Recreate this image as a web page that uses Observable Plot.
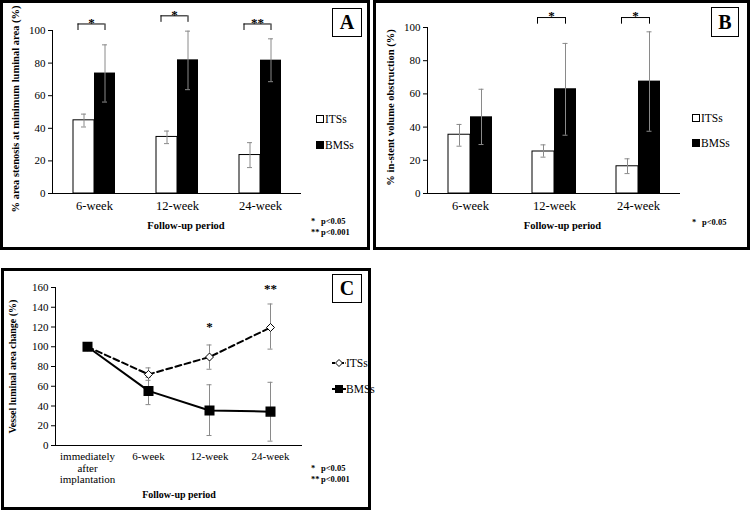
<!DOCTYPE html>
<html>
<head>
<meta charset="utf-8">
<script src="https://cdn.jsdelivr.net/npm/d3@7"></script>
<script src="https://cdn.jsdelivr.net/npm/@observablehq/plot@0.6"></script>
<style>
html,body{margin:0;padding:0;background:#fff;}
#root{position:relative;width:750px;height:511px;overflow:hidden;font-family:"Liberation Serif","Times New Roman",serif;color:#000;}
.frame{position:absolute;box-sizing:border-box;border:3px solid #000;pointer-events:none;}
.plot{position:absolute;}
.plot svg{display:block;overflow:visible;}
.tag{position:absolute;box-sizing:border-box;border:1.5px solid #000;font-weight:bold;font-size:20px;display:flex;align-items:center;justify-content:center;background:#fff;color:#000;}
.leg{position:absolute;font-size:11.5px;line-height:14px;height:14px;display:flex;align-items:center;white-space:nowrap;color:#000;}
.sw{display:inline-block;width:8px;height:8px;box-sizing:border-box;border:1px solid #000;margin-right:1px;}
.note{position:absolute;font-size:8.5px;font-weight:bold;line-height:10px;white-space:nowrap;color:#000;}
.note span{display:inline-block;width:10px;}
</style>
</head>
<body>
<div id="root"></div>
<script>
// ---------- data ----------
const weeks = ["6-week", "12-week", "24-week"];
const groups = ["ITSs", "BMSs"];

// Panel A: % area stenosis at minimum luminal area
const aITS = [44.9, 34.7, 23.6];
const aITSLo = [40.8, 30.6, 15.9];
const aITSHi = [48.7, 38.3, 31.2];
const aBMS = [73.9, 82.0, 81.8];
const aBMSLo = [56.1, 63.7, 68.6];
const aBMSHi = [91.2, 99.6, 94.9];
const aSig = ["*", "*", "**"];
const aSigLevel = [100, 105, 100];

// Panel B: % in-stent volume obstruction
const bITS = [35.4, 25.3, 16.4];
const bITSLo = [28.5, 21.9, 12.0];
const bITSHi = [41.6, 29.3, 20.9];
const bBMS = [46.2, 63.1, 67.7];
const bBMSLo = [29.5, 35.1, 37.5];
const bBMSHi = [62.8, 90.4, 97.4];
const bSig = ["", "*", "*"];
const bSigLevel = [null, 102, 102];

// Panel C: vessel luminal area change
const stages = ["immediately after implantation", "6-week", "12-week", "24-week"];
const cITS = [100, 72, 89.6, 119.5];
const cITSLo = [null, 66, 77.2, 97.6];
const cITSHi = [null, 78.6, 101.8, 143.3];
const cBMS = [100, 55.3, 35.4, 34.3];
const cBMSLo = [null, 41.4, 10.1, 4.4];
const cBMSHi = [null, 69, 61.5, 64];
const cSig = ["", "", "*", "**"];
const cSigLevel = [null, null, 120, 159];

const yTicksAB = [0, 20, 40, 60, 80, 100];
const yTicksC = [0, 20, 40, 60, 80, 100, 120, 140, 160];

const yTitleA = "% area stenosis at minimum luminal area (%)";
const yTitleB = "% in-stent volume obstruction (%)";
const yTitleC = "Vessel luminal area change (%)";
const xTitle = "Follow-up period";

// ---------- helpers ----------
const FONT = "'Liberation Serif', 'Times New Roman', serif";
const ERR = "#8a8a8a";
const root = document.getElementById("root");

function place(node, left, top) {
  const d = document.createElement("div");
  d.className = "plot";
  d.style.left = left + "px";
  d.style.top = top + "px";
  d.appendChild(node);
  root.appendChild(d);
}
function html(s) { root.insertAdjacentHTML("beforeend", s); }

function barPanel(o) {
  const bw = o.bw, q = bw / 4, capIn = (bw - 5) / 2;
  const its = weeks.map((w, i) => ({week: w, v: o.its[i], lo: o.itsLo[i], hi: o.itsHi[i]}));
  const bms = weeks.map((w, i) => ({week: w, v: o.bms[i], lo: o.bmsLo[i], hi: o.bmsHi[i]}));
  const sig = weeks.map((w, i) => ({week: w, s: o.sig[i], lv: o.sigLevel[i]})).filter(d => d.s);
  return Plot.plot({
    width: o.width, height: o.height,
    marginLeft: o.ml, marginRight: o.mr, marginTop: o.mt, marginBottom: o.mb,
    style: {fontFamily: FONT, fontSize: "12px", color: "#000", background: "transparent", overflow: "visible"},
    x: {domain: weeks, paddingInner: o.pi, paddingOuter: o.pi / 2, align: 0.5, axis: null},
    y: {domain: [0, 100], axis: null},
    marks: [
      Plot.barY(its, {x: "week", y: "v", fill: "#fff", stroke: "#000", strokeWidth: 1, insetRight: bw / 2}),
      Plot.barY(bms, {x: "week", y: "v", fill: "#000", insetLeft: bw / 2}),
      Plot.ruleX(its, {x: "week", y1: "lo", y2: "hi", dx: -q, stroke: ERR}),
      Plot.tickY(its, {x: "week", y: "lo", dx: -q, insetLeft: capIn, insetRight: capIn, stroke: ERR}),
      Plot.tickY(its, {x: "week", y: "hi", dx: -q, insetLeft: capIn, insetRight: capIn, stroke: ERR}),
      Plot.ruleX(bms, {x: "week", y1: "lo", y2: "hi", dx: q, stroke: ERR}),
      Plot.tickY(bms, {x: "week", y: "lo", dx: q, insetLeft: capIn, insetRight: capIn, stroke: ERR}),
      Plot.tickY(bms, {x: "week", y: "hi", dx: q, insetLeft: capIn, insetRight: capIn, stroke: ERR}),
      Plot.ruleY([0], {stroke: "#000"}),
      Plot.frame({anchor: "left", stroke: "#000"}),
      Plot.axisY({ticks: yTicksAB, tickSize: 4, tickPadding: 3, fontSize: 11, label: null}),
      Plot.axisX({tickSize: 0, tickPadding: 8, fontSize: 12.5, label: null}),
      Plot.ruleY(sig, {x1: "week", x2: "week", y: d => d.lv + 4, insetLeft: q - 6, insetRight: q, stroke: "#000"}),
      Plot.ruleX(sig, {x: "week", y1: "lv", y2: d => d.lv + 4, dx: -(q + 6), stroke: "#000"}),
      Plot.ruleX(sig, {x: "week", y1: "lv", y2: d => d.lv + 4, dx: q, stroke: "#000"}),
      Plot.text(sig, {x: "week", y: d => d.lv + 4, text: "s", dx: -3, dy: -1.5, lineAnchor: "middle", fontSize: 13, fontWeight: "bold"}),
      Plot.text([o.yTitle], {text: d => d, frameAnchor: "left", textAnchor: "middle", rotate: -90, dx: o.ytdx, dy: o.ytdy, fontWeight: "bold", fontSize: 10.5}),
      Plot.text([xTitle], {text: d => d, frameAnchor: "bottom", dx: o.xtdx, dy: 35, fontWeight: "bold", fontSize: 10.5})
    ]
  });
}

// ---------- Panel A ----------
place(barPanel({
  width: 370, height: 250, ml: 52, mr: 69, mt: 30, mb: 57, bw: 42, pi: 1 - 42 / 83,
  its: aITS, itsLo: aITSLo, itsHi: aITSHi, bms: aBMS, bmsLo: aBMSLo, bmsHi: aBMSHi,
  sig: aSig, sigLevel: aSigLevel, yTitle: yTitleA, ytdx: -37, ytdy: -3, xtdx: 9
}), 0, 0);

// ---------- Panel B ----------
place(barPanel({
  width: 377, height: 250, ml: 54, mr: 70, mt: 27, mb: 57, bw: 44, pi: 1 - 44 / 84.33,
  its: bITS, itsLo: bITSLo, itsHi: bITSHi, bms: bBMS, bmsLo: bBMSLo, bmsHi: bBMSHi,
  sig: bSig, sigLevel: bSigLevel, yTitle: yTitleB, ytdx: -37, ytdy: -3, xtdx: 8.5
}), 373, 0);

// ---------- Panel C ----------
{
  const its = stages.map((s, i) => ({stage: s, v: cITS[i], lo: cITSLo[i], hi: cITSHi[i]}));
  const bms = stages.map((s, i) => ({stage: s, v: cBMS[i], lo: cBMSLo[i], hi: cBMSHi[i]}));
  const itsE = its.filter(d => d.lo != null), bmsE = bms.filter(d => d.lo != null);
  const sig = stages.map((s, i) => ({stage: s, s: cSig[i], lv: cSigLevel[i]})).filter(d => d.s);
  const cap = {insetLeft: -2.5, insetRight: -2.5, stroke: ERR};
  place(Plot.plot({
    width: 370, height: 242, marginLeft: 54, marginRight: 69, marginTop: 19, marginBottom: 65,
    style: {fontFamily: FONT, fontSize: "11px", color: "#000", background: "transparent", overflow: "visible"},
    x: {type: "point", domain: stages, padding: 0.5, axis: null},
    y: {domain: [0, 160], axis: null},
    marks: [
      Plot.ruleY([0], {stroke: "#000"}),
      Plot.frame({anchor: "left", stroke: "#000"}),
      Plot.axisY({ticks: yTicksC, tickSize: 4, tickPadding: 3, fontSize: 11, label: null}),
      Plot.axisX({tickSize: 0, tickPadding: 7, fontSize: 11, lineHeight: 1.02, label: null, tickFormat: d => d.replace(/ /g, "\n")}),
      Plot.ruleX(itsE, {x: "stage", y1: "lo", y2: "hi", stroke: ERR}),
      Plot.ruleY(itsE, {x1: "stage", x2: "stage", y: "lo", ...cap}),
      Plot.ruleY(itsE, {x1: "stage", x2: "stage", y: "hi", ...cap}),
      Plot.ruleX(bmsE, {x: "stage", y1: "lo", y2: "hi", stroke: ERR}),
      Plot.ruleY(bmsE, {x1: "stage", x2: "stage", y: "lo", ...cap}),
      Plot.ruleY(bmsE, {x1: "stage", x2: "stage", y: "hi", ...cap}),
      Plot.line(its, {x: "stage", y: "v", stroke: "#000", strokeWidth: 2, strokeDasharray: "6,3.5"}),
      Plot.line(bms, {x: "stage", y: "v", stroke: "#000", strokeWidth: 2}),
      Plot.dot(its, {x: "stage", y: "v", symbol: "diamond2", r: 3.6, fill: "#fff", stroke: "#000", strokeWidth: 1}),
      Plot.dot(bms, {x: "stage", y: "v", symbol: "square", r: 4.8, fill: "#000", stroke: "#000"}),
      Plot.text(sig, {x: "stage", y: "lv", text: "s", lineAnchor: "middle", fontSize: 13, fontWeight: "bold"}),
      Plot.text([yTitleC], {text: d => d, frameAnchor: "left", textAnchor: "middle", rotate: -90, dx: -43, fontWeight: "bold", fontSize: 10}),
      Plot.text([xTitle], {text: d => d, frameAnchor: "bottom", dy: 52, fontWeight: "bold", fontSize: 10})
    ]
  }), 1, 268);
}

// ---------- frames, tags, legends, notes ----------
html('<div class="frame" style="left:0;top:0;width:370px;height:250px"></div>');
html('<div class="frame" style="left:373px;top:0;width:377px;height:250px"></div>');
html('<div class="frame" style="left:1px;top:268px;width:370px;height:242px"></div>');

html('<div class="tag" style="left:332px;top:8px;width:30px;height:29px">A</div>');
html('<div class="tag" style="left:711px;top:7px;width:28px;height:30px">B</div>');
html('<div class="tag" style="left:332px;top:274px;width:30px;height:29px">C</div>');

function barLegend(x, y1, y2) {
  html(`<div class="leg" style="left:${x}px;top:${y1 - 7}px"><span class="sw" style="background:#fff"></span>${groups[0]}</div>`);
  html(`<div class="leg" style="left:${x}px;top:${y2 - 7}px"><span class="sw" style="background:#000"></span>${groups[1]}</div>`);
}
barLegend(316, 119, 145);
barLegend(692, 118, 143);

function lineLegendSample(dashed, marker) {
  const m = marker === "diamond"
    ? '<path d="M5,1.5 L8.5,5 L5,8.5 L1.5,5 Z" fill="#fff" stroke="#000" stroke-width="1"/>'
    : '<rect x="1" y="1" width="8" height="8" fill="#000"/>';
  return `<svg width="10" height="10" style="overflow:visible;margin-right:2px"><line x1="-2" x2="12" y1="5" y2="5" stroke="#000" stroke-width="2"${dashed ? ' stroke-dasharray="3,1.5"' : ''}/>${m}</svg>`;
}
html(`<div class="leg" style="left:334px;top:${363 - 7}px">${lineLegendSample(true, "diamond")}${groups[0]}</div>`);
html(`<div class="leg" style="left:334px;top:${389 - 7}px">${lineLegendSample(false, "square")}${groups[1]}</div>`);

html('<div class="note" style="left:311px;top:216px"><span>*</span>p&lt;0.05</div>');
html('<div class="note" style="left:311px;top:227px"><span>**</span>p&lt;0.001</div>');
html('<div class="note" style="left:692px;top:217px"><span>*</span>p&lt;0.05</div>');
html('<div class="note" style="left:311px;top:463px"><span>*</span>p&lt;0.05</div>');
html('<div class="note" style="left:311px;top:474px"><span>**</span>p&lt;0.001</div>');
</script>
</body>
</html>
